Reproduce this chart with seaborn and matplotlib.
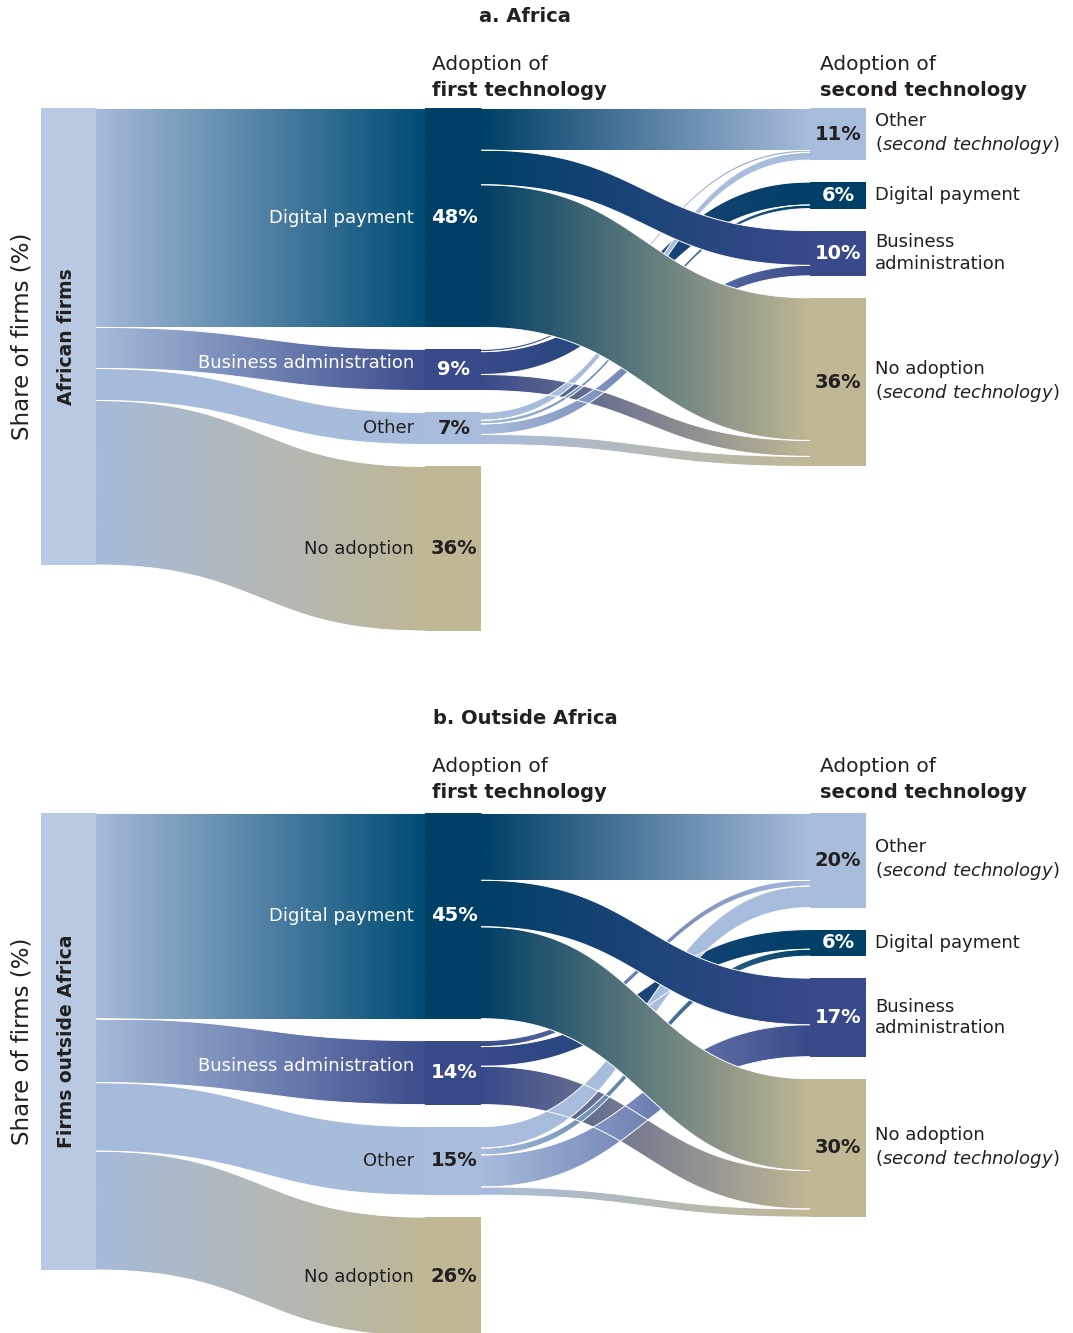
import numpy as np
import matplotlib
matplotlib.use("Agg")
import matplotlib.pyplot as plt
from matplotlib.patches import Polygon
import seaborn as sns

sns.set_theme(style="white")
plt.rcParams['font.family'] = ['DejaVu Sans']

# ---------------- data ----------------
first_tech = ["Digital payment", "Business administration", "Other", "No adoption"]
second_tech = ["Other", "Digital payment", "Business administration", "No adoption"]
second_tech_labels = ["Other\n($\\mathit{second\\ technology}$)", "Digital payment",
                      "Business\nadministration", "No adoption\n($\\mathit{second\\ technology}$)"]

# panel a: Africa (share of firms, %)
africa_first = [48, 9, 7, 36]
africa_second_pct = [11, 6, 10, 36]
# flows first -> second (columns in order of second_tech)
africa_from_dp = [9.2, 0.0, 7.6, 31.2]
africa_from_ba = [0.5, 5.0, 0.0, 3.5]
africa_from_other = [1.7, 0.8, 2.3, 2.2]

# panel b: Outside Africa
outside_first = [45, 14, 15, 26]
outside_second_pct = [20, 6, 17, 30]
outside_from_dp = [14.7, 0.0, 10.2, 20.1]
outside_from_ba = [1.3, 4.3, 0.0, 8.4]
outside_from_other = [4.7, 1.5, 7.0, 1.8]

# ---------------- style ----------------
NODE_COL = {"Digital payment": "#003f66", "Business administration": "#394a8b",
            "Other": "#a8bcdc", "No adoption": "#c0b795"}
FLOW_END = {"Digital payment": "#004c74", "Business administration": "#3d4d8d",
            "Other": "#a8bcdc", "No adoption": "#bfb796"}
TXT_COL = {"Digital payment": "white", "Business administration": "white",
           "Other": "#231f20", "No adoption": "#231f20"}
LABEL_DY = {"Business administration": -1.5}
SRC_COL = "#b8c9e1"
FLOW_START = "#a6bad9"
DARK = "#231f20"

PX = 4.57          # pixels per percentage point
GAP = 22 / PX      # gap between nodes (in % units)
X_SRC = (0, 55)
X_L1 = (384, 440)
X_L2 = (769, 825)

W, H = 1073, 1333
fig = plt.figure(figsize=(W / 100, H / 100), dpi=100)


def draw_flow(ax, x0, x1, ya0, ya1, yb0, yb1, c0, c1, z):
    t = np.linspace(0, 1, 160)
    xs = x0 + (x1 - x0) * (1.5 * t * (1 - t) + t ** 3)
    s = 3 * t ** 2 - 2 * t ** 3
    top = ya0 + (ya1 - ya0) * s
    bot = yb0 + (yb1 - yb0) * s
    verts = np.vstack([np.column_stack([xs, top]), np.column_stack([xs[::-1], bot[::-1]])])
    poly = Polygon(verts, closed=True, facecolor='none', edgecolor='none', zorder=z)
    ax.add_patch(poly)
    cols = np.array(sns.blend_palette([c0, c1], n_colors=256))
    img = cols[np.newaxis, :, :3]
    ymin, ymax = min(top.min(), bot.min()), max(top.max(), bot.max())
    im = ax.imshow(img, extent=(x0, x1, ymax, ymin), aspect='auto',
                   interpolation='bilinear', zorder=z)
    im.set_clip_path(poly)
    ax.plot(xs, top, color='white', lw=0.7, zorder=z + 0.01, solid_capstyle='butt')
    ax.plot(xs, bot, color='white', lw=0.7, zorder=z + 0.01, solid_capstyle='butt')


def positions(heights):
    ys, cur = [], 0.0
    for h in heights:
        ys.append(cur)
        cur += h + GAP
    return np.array(ys)


def panel(ax, first_vals, flows, second_pct, source_label, height_px):
    first_vals = np.array(first_vals, dtype=float)
    M = np.array(flows, dtype=float)
    # source bar
    ax.bar(np.mean(X_SRC), first_vals.sum(), bottom=0, width=X_SRC[1] - X_SRC[0],
           color=SRC_COL, zorder=3, linewidth=0)
    ax.text(np.mean(X_SRC) - 2, first_vals.sum() / 2, source_label, rotation=90,
            ha='center', va='center', fontsize=13.5, fontweight='bold', color=DARK, zorder=6)
    ax.text(-19, first_vals.sum() / 2, "Share of firms (%)", rotation=90, ha='center',
            va='center', fontsize=16.5, color=DARK, clip_on=False)

    # level 1
    y1 = positions(first_vals)
    cum = 0.0
    for i, v in enumerate(first_vals):
        name = first_tech[i]
        draw_flow(ax, X_SRC[1], X_L1[0], cum, y1[i], cum + v, y1[i] + v,
                  FLOW_START, FLOW_END[name], z=1)
        cum += v
    for i, v in enumerate(first_vals):
        name = first_tech[i]
        ax.bar(np.mean(X_L1), v, bottom=y1[i], width=X_L1[1] - X_L1[0],
               color=NODE_COL[name], zorder=3, linewidth=0)
        yc = y1[i] + v / 2
        ax.text(X_L1[0] - 11, yc + LABEL_DY.get(name, 0), name, ha='right', va='center',
                fontsize=13, color=TXT_COL[name], zorder=6)
        ax.text(np.mean(X_L1) + 1, yc, f"{first_vals[i]:.0f}%", ha='center', va='center',
                fontsize=14, fontweight='bold', color=TXT_COL[name], zorder=6)

    # level 2
    h2 = M.sum(axis=0)
    y2 = positions(h2)
    order = [1, 2, 0]
    for i in order:
        src = first_tech[i]
        for j in range(M.shape[1]):
            v = M[i, j]
            if v <= 0:
                continue
            tgt = second_tech[j]
            ys0 = y1[i] + M[i, :j].sum()
            ys1 = y2[j] + M[:i, j].sum()
            z = 2.2 if i == 0 else 2.0
            draw_flow(ax, X_L1[1], X_L2[0], ys0, ys1, ys0 + v, ys1 + v,
                      NODE_COL[src], NODE_COL[tgt], z=z)
    for j, h in enumerate(h2):
        tgt = second_tech[j]
        ax.bar(np.mean(X_L2), h, bottom=y2[j], width=X_L2[1] - X_L2[0],
               color=NODE_COL[tgt], zorder=3, linewidth=0)
        yc = y2[j] + h / 2
        ax.text(np.mean(X_L2), yc, f"{second_pct[j]}%", ha='center', va='center',
                fontsize=14, fontweight='bold', color=TXT_COL[tgt], zorder=6)
        ax.text(X_L2[1] + 9, yc, second_tech_labels[j], ha='left', va='center',
                fontsize=13, color=DARK, linespacing=1.25, clip_on=False, zorder=6)

    ax.set_xlim(X_SRC[0], X_L2[1])
    ax.set_ylim(height_px / PX, 0)
    ax.axis('off')


# panel a
top_a, bot_a = 108, 640
ax_a = fig.add_axes([41 / W, 1 - bot_a / H, 825 / W, (bot_a - top_a) / H])
panel(ax_a, africa_first, [africa_from_dp, africa_from_ba, africa_from_other],
      africa_second_pct, "African firms", bot_a - top_a)

# panel b
top_b, bot_b = 813, 1333
ax_b = fig.add_axes([41 / W, 1 - bot_b / H, 825 / W, (bot_b - top_b) / H])
panel(ax_b, outside_first, [outside_from_dp, outside_from_ba, outside_from_other],
      outside_second_pct, "Firms outside Africa", bot_b - top_b)

# titles and headers
for title, ty in [("a. Africa", 16), ("b. Outside Africa", 718)]:
    fig.text(525 / W, 1 - ty / H, title, ha='center', va='center', fontsize=14,
             fontweight='bold', color=DARK)
for y_a, y_b in [(64, 90), (767, 793)]:
    fig.text(432 / W, 1 - y_a / H, "Adoption of", ha='left', va='center', fontsize=14.5, color=DARK)
    fig.text(432 / W, 1 - y_b / H, "first technology", ha='left', va='center', fontsize=14,
             fontweight='bold', color=DARK)
    fig.text(820 / W, 1 - y_a / H, "Adoption of", ha='left', va='center', fontsize=14.5, color=DARK)
    fig.text(820 / W, 1 - y_b / H, "second technology", ha='left', va='center', fontsize=14,
             fontweight='bold', color=DARK)

fig.savefig("out.png", dpi=100, facecolor='white')
